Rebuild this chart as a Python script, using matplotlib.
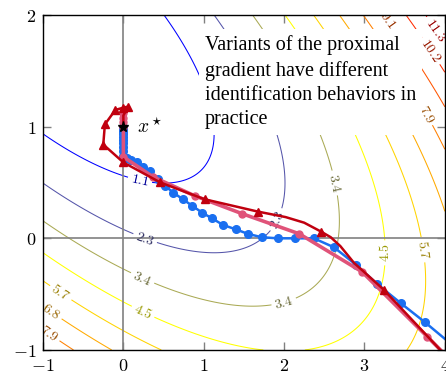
import numpy as np
import matplotlib
matplotlib.use("Agg")
import matplotlib.pyplot as plt

plt.rcParams["mathtext.fontset"] = "cm"

# smooth part: 0.5 (x-c)^T A (x-c), contour levels k * 17/15
A = [[1.0, 1.0], [1.0, 2.0]]
CENTER = [-1.0, 2.0]
LEVELS = [1.1333, 2.2667, 3.4, 4.5333, 5.6667, 6.8, 7.9333, 9.0667, 10.2, 11.3333]
LEVEL_COLORS = [(0, 0, 1), (1/3, 1/3, 2/3), (2/3, 2/3, 1/3), (1, 1, 0),
                (1, 0.833, 0), (1, 0.667, 0), (1, 0.5, 0), (1, 0.333, 0),
                (1, 0.167, 0), (1, 0, 0)]
LABEL_POS = [(0.2, 0.5), (0.27, 0.0), (1.9, 0.17), (0.23, -0.37), (2.0, -0.58),
             (2.66, 0.5), (0.23, -0.68), (3.24, -0.13), (-0.79, -0.5), (3.75, -0.1),
             (-0.9, -0.66), (3.79, 1.12), (-0.92, -0.85), (3.25, 1.93),
             (3.83, 1.68), (3.89, 1.865)]

# proximal gradient iterates
blue_x = [4.05, 3.75, 3.45, 3.16, 2.90, 2.62, 2.37, 2.13, 1.92, 1.72, 1.55, 1.40,
          1.24, 1.10, 0.98, 0.86, 0.74, 0.62, 0.52, 0.43, 0.33, 0.25, 0.17, 0.10,
          0.04, 0.0, 0.0, 0.0, 0.0, 0.0, 0.0, 0.0, 0.0, 0.0, 0.0, 0.0, 0.0]
blue_y = [-0.93, -0.75, -0.58, -0.41, -0.24, -0.08, 0.0, 0.0, 0.0, 0.01, 0.04, 0.08,
          0.12, 0.18, 0.23, 0.29, 0.35, 0.41, 0.47, 0.53, 0.60, 0.64, 0.68, 0.70,
          0.72, 0.74, 0.78, 0.82, 0.85, 0.88, 0.91, 0.93, 0.95, 0.97, 0.98, 0.99, 1.0]

pink_x = [4.1, 3.78, 2.97, 2.19, 1.48, 0.89, 0.37, 0.0, 0.0, 0.0, 0.0, 0.0]
pink_y = [-1.11, -0.88, -0.30, 0.04, 0.22, 0.38, 0.55, 0.73, 1.12, 1.08, 1.04, 1.0]

red_x = [4.1, 3.24, 2.87, 2.70, 2.58, 2.46, 2.25, 2.02, 1.67, 1.01, 0.46, 0.0,
         -0.25, -0.23, -0.10, 0.0, 0.06, 0.0, 0.0]
red_y = [-1.12, -0.46, -0.22, -0.07, 0.01, 0.06, 0.14, 0.19, 0.24, 0.35, 0.50, 0.68,
         0.84, 1.02, 1.15, 1.17, 1.18, 1.10, 1.0]
red_marks = [1, 5, 8, 9, 10, 11, 12, 13, 14, 15, 16]

x_star = [0.0, 1.0]

xx, yy = np.meshgrid(np.linspace(-1, 4, 500), np.linspace(-1, 2, 400))
u, v = xx - CENTER[0], yy - CENTER[1]
zz = 0.5 * (A[0][0] * u**2 + 2 * A[0][1] * u * v + A[1][1] * v**2)

fig = plt.figure(figsize=(4.46, 3.74), dpi=100)
ax = fig.add_axes([0.0964, 0.0642, 0.901, 0.8957])

cs = ax.contour(xx, yy, zz, levels=LEVELS, colors=LEVEL_COLORS, linewidths=0.75)
label_colors = [tuple(0.6 * c for c in col) for col in LEVEL_COLORS]
ax.clabel(cs, cs.levels, manual=LABEL_POS, fmt=lambda z: f"${z:.1f}$",
          fontsize=10, colors=label_colors, inline=True, inline_spacing=3)

ax.axhline(0, color="0.5", lw=1.2, zorder=2)
ax.axvline(0, color="0.5", lw=1.2, zorder=2)

ax.plot(blue_x, blue_y, "-o", color="#1a6ff0", lw=1.8, ms=5.5, zorder=4)
ax.plot(pink_x, pink_y, "-o", color="#e05379", lw=2.6, ms=5, zorder=5)
ax.plot(red_x, red_y, "-^", color="#c0000f", lw=1.8, ms=6, markevery=red_marks, zorder=6)

ax.plot(*x_star, marker="*", color="k", ms=8, zorder=7)
ax.text(0.17, 1.0, r"$x^\star$", fontsize=14, va="center", ha="left", zorder=7)

ax.text(1.015, 1.82,
        "Variants of the proximal\ngradient have different\n"
        "identification behaviors in\npractice",
        family="Liberation Serif", fontsize=14.5, va="top", ha="left",
        linespacing=1.38, zorder=8,
        bbox=dict(facecolor="white", edgecolor="none", boxstyle="square,pad=0.3"))

ax.set_xlim(-1, 4)
ax.set_ylim(-1, 2)
ax.set_xticks([-1, 0, 1, 2, 3, 4])
ax.set_yticks([-1, 0, 1, 2])
ax.set_xticklabels([f"${t}$" for t in [-1, 0, 1, 2, 3, 4]])
ax.set_yticklabels([f"${t}$" for t in [-1, 0, 1, 2]])
ax.tick_params(direction="in", length=6, width=1, color="0.5", labelsize=13,
               top=True, right=True, pad=5)
for s in ax.spines.values():
    s.set_linewidth(1.0)
    s.set_zorder(9)

fig.savefig("out.png", dpi=100)
